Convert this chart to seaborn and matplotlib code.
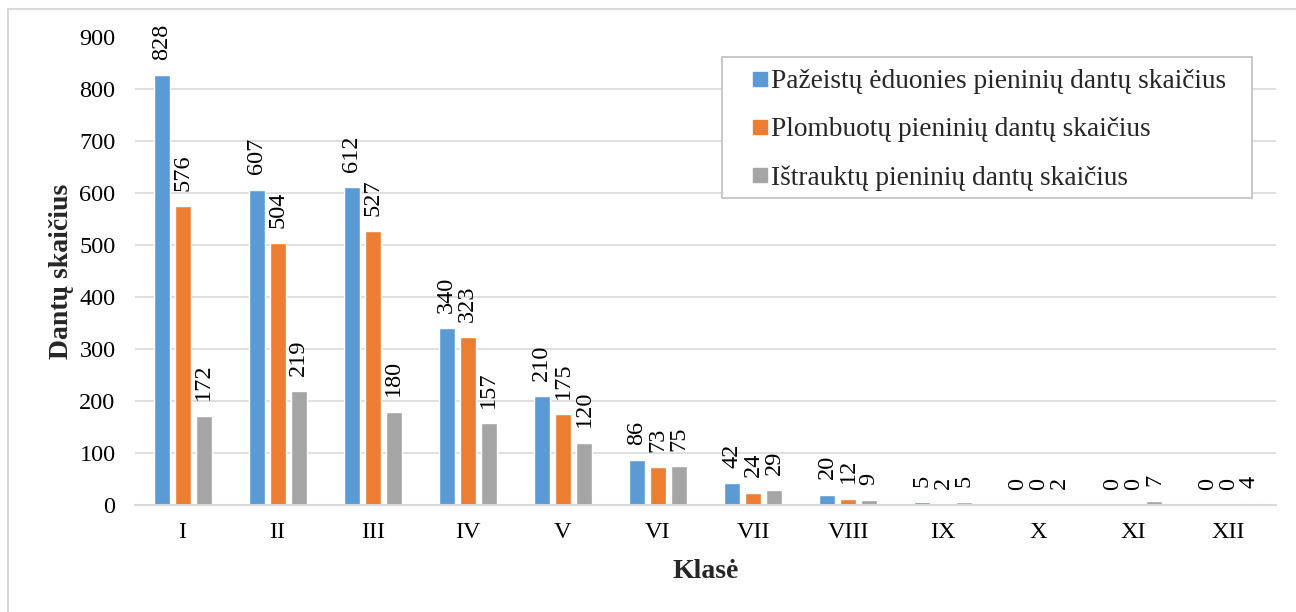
import pandas as pd
import numpy as np
import matplotlib.pyplot as plt
import seaborn as sns
from matplotlib.lines import Line2D
from matplotlib.patches import Rectangle

# ==============================
# Data
# ==============================
classes = ["I", "II", "III", "IV", "V", "VI", "VII", "VIII", "IX", "X", "XI", "XII"]
pazeisti = [828, 607, 612, 340, 210, 86, 42, 20, 5, 0, 0, 0]
plombuoti = [576, 504, 527, 323, 175, 73, 24, 12, 2, 0, 0, 0]
istraukti = [172, 219, 180, 157, 120, 75, 29, 9, 5, 2, 7, 4]

series_names = [
    "Pažeistų ėduonies pieninių dantų skaičius",
    "Plombuotų pieninių dantų skaičius",
    "Ištrauktų pieninių dantų skaičius",
]
colors = ["#5B9BD5", "#ED7D31", "#A5A5A5"]

df = pd.DataFrame({
    "Klasė": classes * 3,
    "value": pazeisti + plombuoti + istraukti,
    "series": np.repeat(series_names, len(classes)),
})

# ==============================
# Style
# ==============================
sns.set_theme(style="white")
plt.rcParams['font.family'] = ['Liberation Serif', 'DejaVu Serif']

W, H = 1296, 612
fig = plt.figure(figsize=(12.96, 6.12), dpi=100)
ax = fig.add_axes([135 / W, 1 - 505 / H, (1276 - 135) / W, (505 - 37.5) / H])

sns.barplot(data=df, x="Klasė", y="value", hue="series", hue_order=series_names,
            palette=colors, width=0.663, gap=0.24, saturation=1, ax=ax, legend=False)

for cont in ax.containers:
    ax.bar_label(cont, rotation=90, padding=11, fontsize=17.5, color="black")

ax.set_ylim(0, 900)
ax.set_yticks(range(0, 901, 100))
ax.yaxis.grid(True, color="#D9D9D9", linewidth=1.2)
ax.set_axisbelow(True)
for s in ["left", "right", "top"]:
    ax.spines[s].set_visible(False)
ax.spines["bottom"].set_color("#D9D9D9")
ax.spines["bottom"].set_linewidth(1.5)
ax.tick_params(axis="both", length=0, labelsize=17.5, colors="black")
ax.tick_params(axis="y", pad=14)
ax.tick_params(axis="x", pad=12)

ax.set_xlabel("Klasė", fontsize=20, fontweight="bold", labelpad=12)
ax.set_ylabel("Dantų skaičius", fontsize=20, fontweight="bold", labelpad=4)

# Legend box (frame drawn separately for exact padding)
ax.add_patch(Rectangle((722 / W, 1 - 198 / H), (1252 - 722) / W, (198 - 57) / H,
                       transform=fig.transFigure, clip_on=False, zorder=4,
                       facecolor="white", edgecolor="#BFBFBF", linewidth=1.2))
handles = [Line2D([], [], marker="s", linestyle="", markersize=10.5, color=c) for c in colors]
leg = ax.legend(handles, series_names, loc="upper left",
                bbox_to_anchor=(752 / W, 1 - 69 / H), bbox_transform=fig.transFigure,
                fontsize=19.7, frameon=False,
                handlelength=0.55, handletextpad=0.15, labelspacing=0.84,
                borderpad=0, borderaxespad=0)
leg.set_zorder(5)

# Outer chart border
fig.patches.append(Rectangle((8 / W, -0.1), 1.2, 1 - 9 / H + 0.1,
                             transform=fig.transFigure, fill=False,
                             edgecolor="#D9D9D9", linewidth=1.5))

fig.savefig("out.png", dpi=100)
